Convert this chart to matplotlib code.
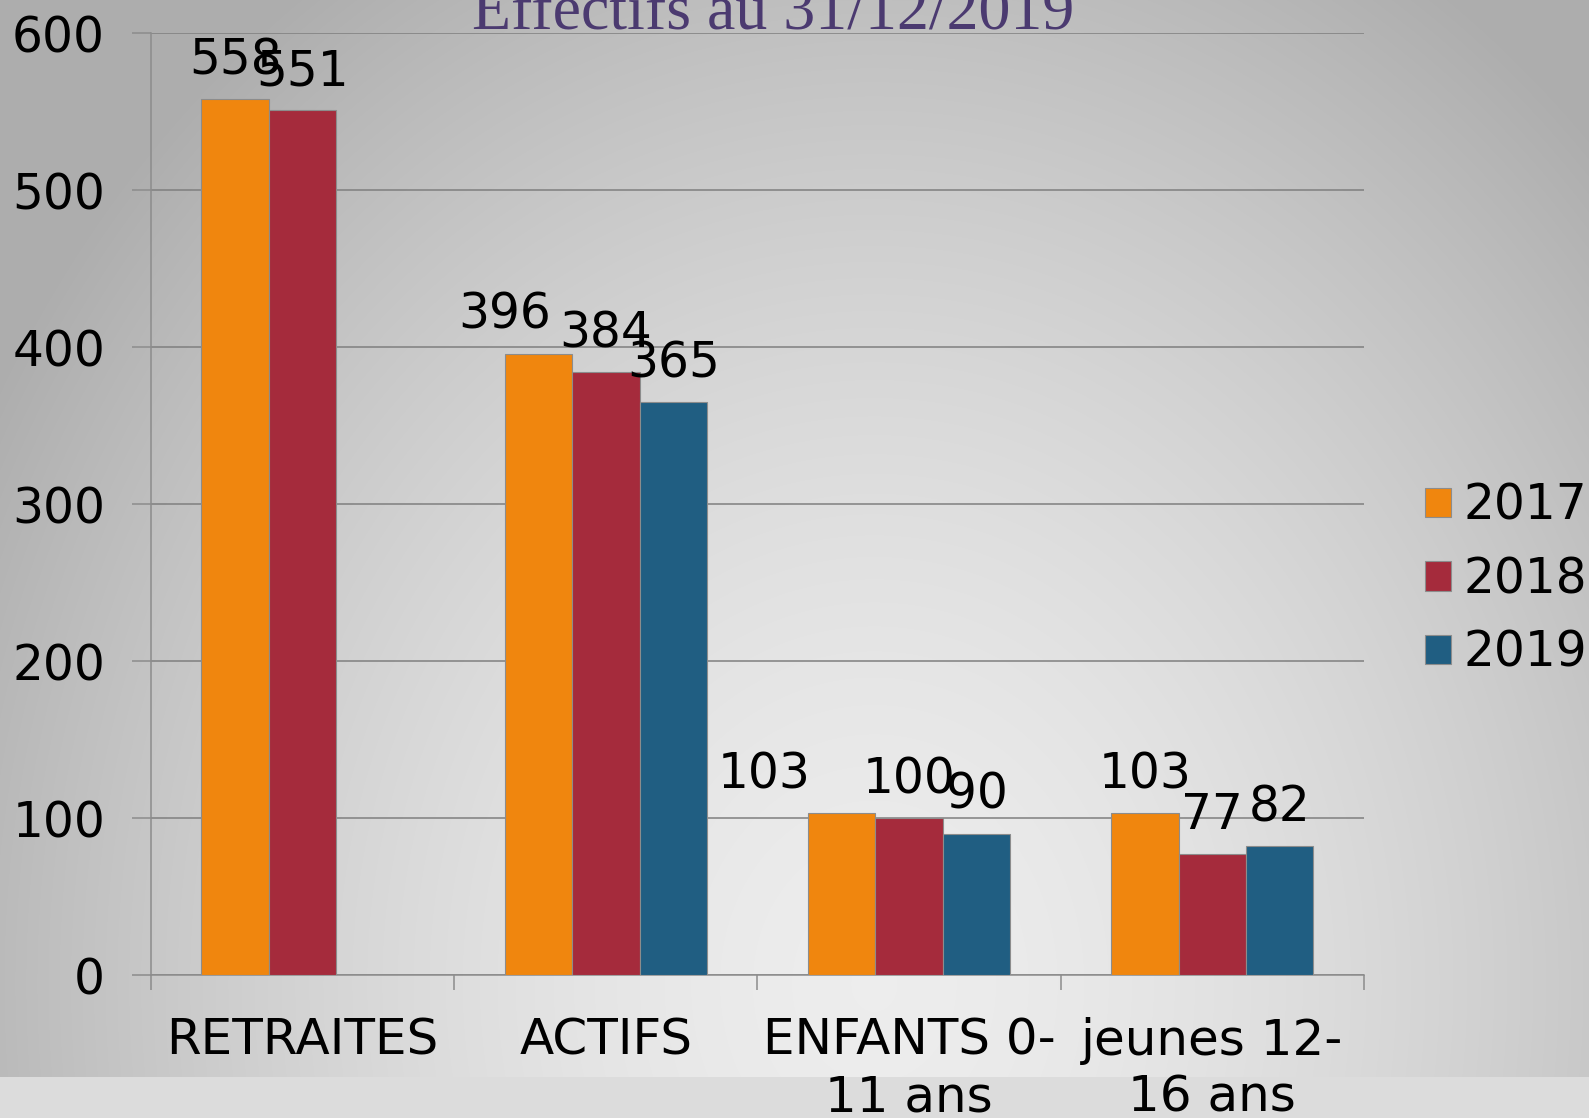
import numpy as np
import matplotlib
matplotlib.use("Agg")
import matplotlib.pyplot as plt

# data
categories = ["RETRAITES", "ACTIFS", "ENFANTS 0-\n11 ans", "jeunes 12-\n16 ans"]
years = ["2017", "2018", "2019"]
v2017 = [558, 396, 103, 103]
v2018 = [551, 384, 100, 77]
v2019 = [np.nan, 365, 90, 82]   # no 2019 bar for RETRAITES
colors = ["#F0860E", "#A52B3C", "#205E82"]

# label nudges (points) where the original labels sit off-centre
label_dx_2017 = [0, -24, -56, 0]

W, H = 1589, 1118
fig = plt.figure(figsize=(W / 100, H / 100), dpi=100)
plt.rcParams['font.family'] = ['DejaVu Sans']

# background: grey radial gradient + light strip at the bottom
bg = fig.add_axes([0, 0, 1, 1])
yy, xx = np.mgrid[0:H, 0:W]
d = np.sqrt(((xx - 0.55 * W) / (0.62 * W)) ** 2 + ((yy - 0.88 * H) / (1.05 * H)) ** 2)
g = np.clip(0.93 - 0.24 * d ** 1.6, 0.68, 0.93)
g[1077:, :] = 0.865
bg.imshow(np.dstack([g, g, g]), aspect="auto", extent=(0, W, H, 0))
bg.set_axis_off()

ax = fig.add_axes([0.0950, 0.1279, 0.7634, 0.8422])
ax.set_facecolor("none")

x = np.arange(len(categories))
w = 2 / 9
series = [v2017, v2018, v2019]
for i, (vals, yr, c) in enumerate(zip(series, years, colors)):
    bars = ax.bar(x + (i - 1) * w, vals, w, color=c, edgecolor="#8C8C8C",
                  linewidth=0.8, label=yr, zorder=3)
    for j, (b, v) in enumerate(zip(bars, vals)):
        if np.isnan(v):
            continue
        dx = label_dx_2017[j] if i == 0 else 0
        ax.annotate(f"{v:.0f}", (b.get_x() + b.get_width() / 2, v),
                    xytext=(dx, 28), textcoords="offset points",
                    ha="center", va="center", fontsize=35, color="black",
                    zorder=5)

ax.set_xlim(-0.5, 3.5)
ax.set_ylim(0, 600)
ax.set_yticks(range(0, 601, 100))
ax.grid(axis="y", color="#7F7F7F", linewidth=1.1, zorder=0)
for s in ["top", "right"]:
    ax.spines[s].set_visible(False)
for s in ["left", "bottom"]:
    ax.spines[s].set_color("#8C8C8C")
    ax.spines[s].set_linewidth(1.1)

ax.tick_params(axis="y", length=14, width=1.1, color="#8C8C8C",
               labelsize=35, pad=19)
ax.set_xticks(x, categories)
ax.tick_params(axis="x", which="major", length=0, labelsize=36, pad=30)
for t in ax.get_xticklabels():
    t.set_linespacing(1.22)
ax.set_xticks(np.arange(-0.5, 4, 1), minor=True)
ax.tick_params(axis="x", which="minor", length=11, width=1.1, color="#8C8C8C")

fig.text(0.4866, 0.9746, "Effectifs au 31/12/2019", ha="center", va="baseline",
         fontsize=46, color="#4B3A70", family="Liberation Serif")

ax.legend(loc="center left", bbox_to_anchor=(0.8965, 0.482),
          bbox_transform=fig.transFigure, frameon=False, fontsize=35,
          handlelength=0.55, handleheight=0.55, handletextpad=0.25,
          labelspacing=0.53, borderpad=0, borderaxespad=0)

fig.savefig("out.png", dpi=100)
